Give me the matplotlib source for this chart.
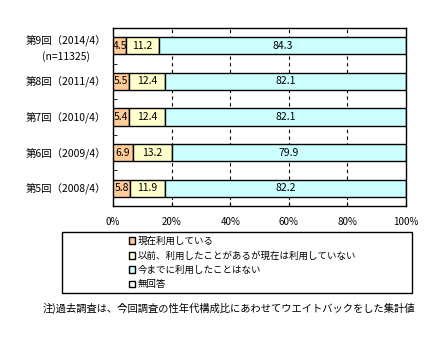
import numpy as np
import matplotlib
matplotlib.use("Agg")
import matplotlib.pyplot as plt
from matplotlib.patches import Rectangle

plt.rcParams['font.family'] = ['Noto Sans CJK JP', 'DejaVu Sans']

# データ（上から順）
rounds = ['第9回（2014/4）\n(n=11325)', '第8回（2011/4）', '第7回（2010/4）',
          '第6回（2009/4）', '第5回（2008/4）']
using_now = [4.5, 5.5, 5.4, 6.9, 5.8]
used_before = [11.2, 12.4, 12.4, 13.2, 11.9]
never_used = [84.3, 82.1, 82.1, 79.9, 82.2]
no_answer = [0.0, 0.0, 0.1, 0.0, 0.1]

series_names = ['現在利用している', '以前、利用したことがあるが現在は利用していない',
                '今までに利用したことはない', '無回答']
colors = ['#FFCC99', '#FFFFCC', '#CCFFFF', '#FFFFFF']
x_ticks = [0, 20, 40, 60, 80, 100]

fig = plt.figure(figsize=(4.45, 3.43), dpi=100)
ax = fig.add_axes([113/445, 1-206/343, (406-113)/445, (206-28)/343])

y = np.arange(len(rounds))
left = np.zeros(len(rounds))
handles = []
for vals, col, name in zip([using_now, used_before, never_used, no_answer], colors, series_names):
    b = ax.barh(y, vals, left=left, height=0.48, color=col, edgecolor='black',
                linewidth=1.0, zorder=3, label=name)
    handles.append(b)
    if name != '無回答':
        for yi, l, v in zip(y, left, vals):
            ax.text(l + v/2, yi, f'{v:.1f}', ha='center', va='center', fontsize=7.5, zorder=4)
    left = left + np.array(vals)

for gx in x_ticks[1:-1]:
    ax.axvline(gx, color='black', lw=0.8, ls=(0, (3, 3)), zorder=1)

ax.set_xlim(0, 100)
ax.set_ylim(len(rounds) - 0.5, -0.5)
ax.set_xticks(x_ticks)
ax.set_xticklabels([f'{t}%' for t in x_ticks], fontsize=7)
ax.tick_params(axis='x', direction='in', length=3, pad=8)
ax.set_yticks(y)
ax.set_yticklabels(rounds, fontsize=7.5, linespacing=1.4)
for lab in ax.get_yticklabels():
    lab.set_multialignment('center')
ax.tick_params(axis='y', length=0, pad=5)
ax.set_yticks(np.arange(len(rounds) + 1) - 0.5, minor=True)
ax.tick_params(axis='y', which='minor', direction='in', length=3)
for s in ax.spines.values():
    s.set_linewidth(1.0)

# 凡例
fig.patches.append(Rectangle((62/445, 1-293/343), (412-62)/445, (293-232)/343,
                             transform=fig.transFigure, fill=False, edgecolor='black', lw=1.0))
fig.legend(handles=handles, labels=series_names, loc='upper left',
           bbox_to_anchor=(122/445, 1-230/343), frameon=False, fontsize=6.8,
           handlelength=0.7, handleheight=0.7, handletextpad=0.3, labelspacing=0.55,
           borderpad=0.2)

fig.text(43/445, 1-308/343, '注)過去調査は、今回調査の性年代構成比にあわせてウエイトバックをした集計値',
         fontsize=7.4, va='center', ha='left')

fig.savefig('out.png', dpi=100)
